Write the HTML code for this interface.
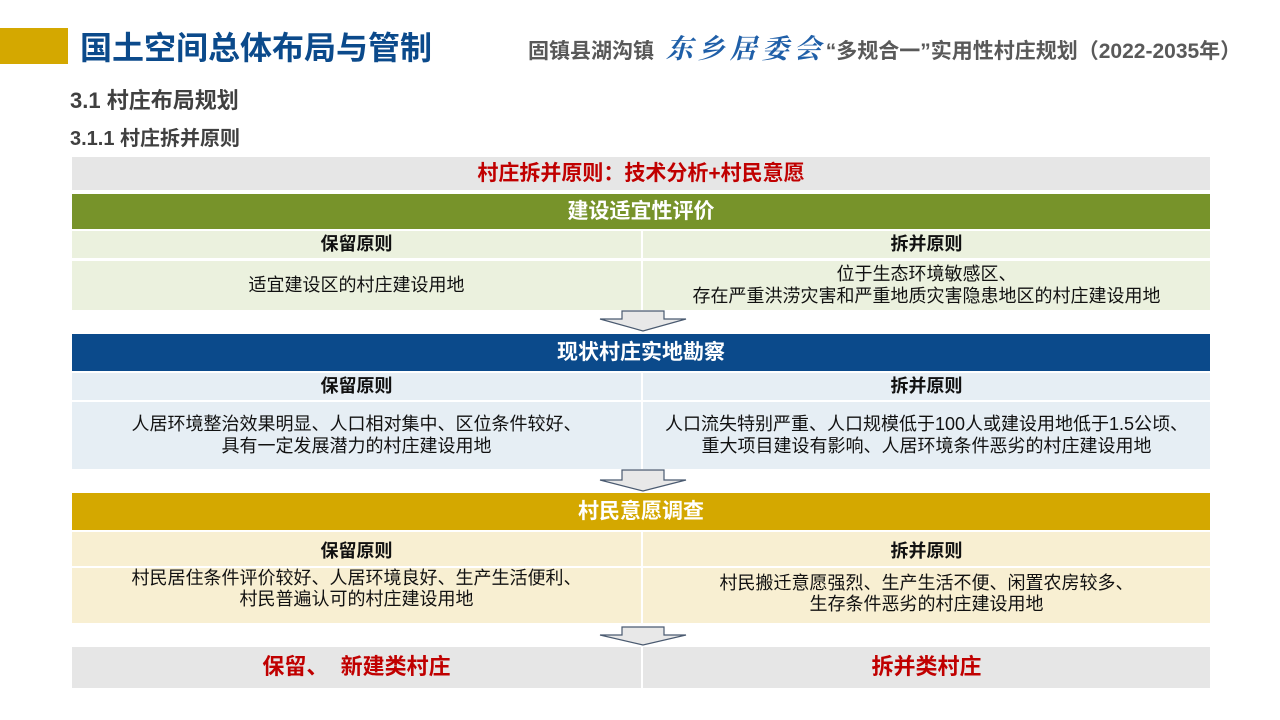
<!DOCTYPE html>
<html><head><meta charset="utf-8"><style>
body{margin:0;width:1280px;height:720px;background:#fff;position:relative;overflow:hidden;font-family:"Liberation Sans","Noto Sans CJK SC",sans-serif}
.a{position:absolute}
.c{position:absolute;display:flex;align-items:center;justify-content:center;text-align:center;line-height:1.2}
.L{left:72px;width:569px}
.R{left:643px;width:567px}
.F{left:72px;width:1138px}
.h{color:#fff;font-weight:bold;font-size:21px}
.sh{font-weight:bold;font-size:18px;color:#111}
.ct{font-size:18px;color:#111}
</style></head><body>
<div class="a" style="left:0;top:28px;width:68px;height:36px;background:#d4a800"></div>
<div class="a" style="left:80px;top:27px;font-size:32px;font-weight:bold;color:#0b4a8b;line-height:42px">国土空间总体布局与管制</div>
<div class="a" style="left:528px;top:31px;font-size:21px;font-weight:bold;color:#595959;line-height:32px;white-space:nowrap">固镇县湖沟镇<span style="font-family:'Noto Serif CJK SC',serif;font-style:italic;color:#1f5fa8;font-size:27px;letter-spacing:5px"> 东乡居委会</span>“多规合一”实用性村庄规划（2022-2035年）</div>
<div class="a" style="left:70px;top:87px;font-size:22px;font-weight:bold;color:#404040;line-height:28px">3.1 村庄布局规划</div>
<div class="a" style="left:70px;top:126px;font-size:20px;font-weight:bold;color:#404040;line-height:26px">3.1.1 村庄拆并原则</div>

<div class="c F" style="top:157px;height:33px;background:#e6e6e6;color:#c00000;font-weight:bold;font-size:21px">村庄拆并原则：技术分析+村民意愿</div>

<div class="c F h" style="top:194px;height:35px;background:#77932a">建设适宜性评价</div>
<div class="c L sh" style="top:231px;height:27px;background:#ebf1de">保留原则</div>
<div class="c R sh" style="top:231px;height:27px;background:#ebf1de">拆并原则</div>
<div class="c L ct" style="top:261px;height:49px;background:#ebf1de">适宜建设区的村庄建设用地</div>
<div class="c R ct" style="top:261px;height:49px;background:#ebf1de">位于生态环境敏感区、<br>存在严重洪涝灾害和严重地质灾害隐患地区的村庄建设用地</div>

<div class="c F h" style="top:334px;height:37px;background:#0b4a8b">现状村庄实地勘察</div>
<div class="c L sh" style="top:373px;height:27px;background:#e6eef4">保留原则</div>
<div class="c R sh" style="top:373px;height:27px;background:#e6eef4">拆并原则</div>
<div class="c L ct" style="top:402px;height:67px;background:#e6eef4">人居环境整治效果明显、人口相对集中、区位条件较好、<br>具有一定发展潜力的村庄建设用地</div>
<div class="c R ct" style="top:402px;height:67px;background:#e6eef4">人口流失特别严重、人口规模低于100人或建设用地低于1.5公顷、<br>重大项目建设有影响、人居环境条件恶劣的村庄建设用地</div>

<div class="c F h" style="top:493px;height:37px;background:#d4a800">村民意愿调查</div>
<div class="c L sh" style="top:532px;height:34px;background:#f8efd2;padding-top:6px;box-sizing:border-box">保留原则</div>
<div class="c R sh" style="top:532px;height:34px;background:#f8efd2;padding-top:6px;box-sizing:border-box">拆并原则</div>
<div class="c L ct" style="top:568px;height:55px;background:#f8efd2;align-items:flex-start;line-height:21px">村民居住条件评价较好、人居环境良好、生产生活便利、<br>村民普遍认可的村庄建设用地</div>
<div class="c R ct" style="top:568px;height:55px;background:#f8efd2;align-items:flex-start;padding-top:5px;box-sizing:border-box;line-height:21px">村民搬迁意愿强烈、生产生活不便、闲置农房较多、<br>生存条件恶劣的村庄建设用地</div>

<div class="c L" style="top:647px;height:41px;background:#e6e6e6;color:#c00000;font-weight:bold;font-size:22px;white-space:pre">保留、  新建类村庄</div>
<div class="c R" style="top:647px;height:41px;background:#e6e6e6;color:#c00000;font-weight:bold;font-size:22px">拆并类村庄</div>

<svg class="a" style="left:0;top:0" width="1280" height="720">
<g fill="#e8e8e8" stroke="#4a5a70" stroke-width="1.2">
<polygon points="622,311 664,311 664,319 686,319 643,331 600,319 622,319"/>
<polygon points="622,470 664,470 664,480 686,480 643,491 600,480 622,480"/>
<polygon points="622,627 664,627 664,635 686,635 643,645 600,635 622,635"/>
</g></svg>
</body></html>
